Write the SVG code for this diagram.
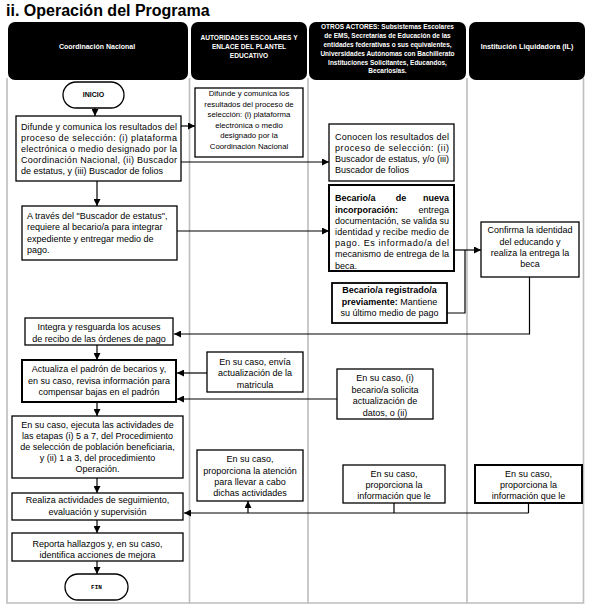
<svg xmlns="http://www.w3.org/2000/svg" width="589" height="610" viewBox="0 0 589 610">
<style>
text{font-family:"Liberation Sans",Arial,sans-serif;fill:#000}
.t{font-size:9px}
.s{font-size:7.8px}
.c{text-anchor:middle}
.b{font-weight:bold}
.h{fill:#fff;font-weight:bold;text-anchor:middle}
.box{fill:#fff;stroke:#000;stroke-width:1.3}
.thick{stroke-width:2}
.lane{fill:none;stroke:#bdbdbd;stroke-width:1.6}
.hd{fill:#000}
.ln{fill:none;stroke:#000;stroke-width:1.2}
</style>
<defs>
<marker id="ah" viewBox="0 0 10 10" refX="10" refY="5" markerWidth="7" markerHeight="7" markerUnits="userSpaceOnUse" orient="auto">
<path d="M0,0 L10,5 L0,10 Z" fill="#000"/>
</marker>
</defs>
<rect width="589" height="610" fill="#fff"/>
<text x="6" y="16" class="b" style="font-size:16px">ii. Operación del Programa</text>

<g id="lanes">
<path class="lane" d="M7,78 V603 H583.5 V78 M189.5,78 V603 M308,78 V603 M467,78 V603"/>
</g>

<g id="headers">
<rect class="hd" x="8" y="22" width="180" height="58" rx="7"/>
<text class="h" x="97" y="48.5" style="font-size:7px">Coordinación Nacional</text>
<rect class="hd" x="191" y="22" width="116" height="58" rx="7"/>
<text class="h" x="249" y="40.4" style="font-size:6.6px">AUTORIDADES ESCOLARES Y</text>
<text class="h" x="249" y="49.4" style="font-size:6.6px">ENLACE DEL PLANTEL</text>
<text class="h" x="249" y="58.4" style="font-size:6.6px">EDUCATIVO</text>
<rect class="hd" x="309" y="22" width="157" height="58" rx="7"/>
<g style="font-size:6.5px">
<text class="h" x="387.5" y="29.4">OTROS ACTORES: Subsistemas Escolares</text>
<text class="h" x="387.5" y="38.2">de EMS, Secretarías de Educación de las</text>
<text class="h" x="387.5" y="47">entidades federativas o sus equivalentes,</text>
<text class="h" x="387.5" y="55.8">Universidades Autónomas con Bachillerato</text>
<text class="h" x="387.5" y="64.6">Instituciones Solicitantes, Educandos,</text>
<text class="h" x="387.5" y="73.4">Becarios/as.</text>
</g>
<rect class="hd" x="469" y="22" width="116" height="58" rx="7"/>
<text class="h" x="527" y="48.5" style="font-size:7.2px">Institución Liquidadora (IL)</text>
</g>

<g id="connectors">
<path class="ln" marker-end="url(#ah)" d="M95,108 V116"/>
<path class="ln" marker-end="url(#ah)" d="M181,126 H195"/>
<path class="ln" marker-end="url(#ah)" d="M181,162 H329"/>
<path class="ln" marker-end="url(#ah)" d="M97,181 V206"/>
<path class="ln" marker-end="url(#ah)" d="M177,231 H329"/>
<path class="ln" d="M447,313 H465 V250"/>
<path class="ln" marker-end="url(#ah)" d="M454,250 H481"/>
<path class="ln" marker-end="url(#ah)" d="M529.5,277 V334 H174"/>
<path class="ln" marker-end="url(#ah)" d="M97,345 V360"/>
<path class="ln" marker-end="url(#ah)" d="M207,373 H177"/>
<path class="ln" marker-end="url(#ah)" d="M337,399 H177"/>
<path class="ln" marker-end="url(#ah)" d="M97,402 V416"/>
<path class="ln" marker-end="url(#ah)" d="M97,478 V493"/>
<path class="ln" d="M394,503 V513 M528.5,503 V513"/>
<path class="ln" marker-end="url(#ah)" d="M528.5,513 H184"/>
<path class="ln" marker-end="url(#ah)" d="M248,513 V501"/>
<path class="ln" marker-end="url(#ah)" d="M97,520 V533"/>
<path class="ln" marker-end="url(#ah)" d="M97,561 V574"/>
</g>

<g id="inicio">
<rect class="box" x="63" y="82" width="61" height="26" rx="13"/>
<text class="c b" x="93.5" y="97" style="font-size:7px">INICIO</text>
</g>

<g id="cn-difunde">
<rect class="box" x="16" y="116" width="165" height="65"/>
<g class="t">
<text x="21" y="129.5" textLength="156" lengthAdjust="spacing">Difunde y comunica los resultados del</text>
<text x="21" y="140.5" textLength="156" lengthAdjust="spacing">proceso de selección: (i) plataforma</text>
<text x="21" y="151.5" textLength="156" lengthAdjust="spacing">electrónica o medio designado por la</text>
<text x="21" y="162.5" textLength="156" lengthAdjust="spacing">Coordinación Nacional, (ii) Buscador</text>
<text x="21" y="173.5">de estatus, y (iii) Buscador de folios</text>
</g>
</g>

<g id="aut-difunde">
<rect class="box" x="195" y="88" width="108" height="69"/>
<g class="s c">
<text x="249" y="96.3">Difunde y comunica los</text>
<text x="249" y="106.8">resultados del proceso de</text>
<text x="249" y="117.3">selección: (i) plataforma</text>
<text x="249" y="127.8">electrónica o medio</text>
<text x="249" y="138.3">designado por la</text>
<text x="249" y="148.8">Coordinación Nacional</text>
</g>
</g>

<g id="otros-conocen">
<rect class="box" x="329" y="124" width="125" height="57"/>
<g class="t">
<text x="335" y="140" textLength="114" lengthAdjust="spacing">Conocen los resultados del</text>
<text x="335" y="151" textLength="114" lengthAdjust="spacing">proceso de selección: (ii)</text>
<text x="335" y="161.8" textLength="114" lengthAdjust="spacing">Buscador de estatus, y/o (iii)</text>
<text x="335" y="172.6">Buscador de folios</text>
</g>
</g>

<g id="cn-requiere">
<rect class="box" x="22" y="206" width="155" height="54"/>
<g class="t">
<text x="27" y="218.5">A través del "Buscador de estatus",</text>
<text x="27" y="230">requiere al becario/a para integrar</text>
<text x="27" y="241.5">expediente y entregar medio de</text>
<text x="27" y="253">pago.</text>
</g>
</g>

<g id="otros-nuevo">
<rect class="box thick" x="329" y="185" width="125" height="86"/>
<g class="t">
<text x="335" y="201.3" class="b">Becario/a</text>
<text x="401" y="201.3" class="b c">de</text>
<text x="449" y="201.3" class="b" text-anchor="end">nueva</text>
<text x="335" y="212.5" class="b">incorporación:</text>
<text x="449" y="212.5" text-anchor="end">entrega</text>
<text x="335" y="223.8" textLength="114" lengthAdjust="spacing">documentación, se valida su</text>
<text x="335" y="235" textLength="114" lengthAdjust="spacing">identidad y recibe medio de</text>
<text x="335" y="246.2" textLength="114" lengthAdjust="spacing">pago. Es informado/a del</text>
<text x="335" y="257.4" textLength="114" lengthAdjust="spacing">mecanismo de entrega de la</text>
<text x="335" y="268.6">beca.</text>
</g>
</g>

<g id="otros-registrado">
<rect class="box" x="332" y="283" width="115" height="40" style="stroke-width:1.8"/>
<g class="t c">
<text x="389.5" y="293.3" class="b">Becario/a registrado/a</text>
<text x="389.5" y="304.5"><tspan class="b">previamente:</tspan> Mantiene</text>
<text x="389.5" y="315.7">su último medio de pago</text>
</g>
</g>

<g id="il-confirma">
<rect class="box" x="481" y="222" width="98" height="55"/>
<g class="t c">
<text x="530" y="233.3">Confirma la identidad</text>
<text x="530" y="244.6">del educando y</text>
<text x="530" y="255.9">realiza la entrega la</text>
<text x="530" y="267.2">beca</text>
</g>
</g>

<g id="cn-integra">
<rect class="box" x="25" y="318" width="148" height="27"/>
<g class="t c">
<text x="99" y="329.7">Integra y resguarda los acuses</text>
<text x="99" y="341.5">de recibo de las órdenes de pago</text>
</g>
</g>

<g id="cn-actualiza">
<rect class="box thick" x="22" y="360" width="154" height="42"/>
<g class="t c">
<text x="99" y="372.2">Actualiza el padrón de becarios y,</text>
<text x="99" y="383.6">en su caso, revisa información para</text>
<text x="99" y="395">compensar bajas en el padrón</text>
</g>
</g>

<g id="aut-matricula">
<rect class="box" x="207" y="352" width="96" height="40"/>
<g class="t c">
<text x="255" y="364.7">En su caso, envía</text>
<text x="255" y="376.1">actualización de la</text>
<text x="255" y="387.5">matricula</text>
</g>
</g>

<g id="otros-datos">
<rect class="box" x="337" y="369" width="96" height="50"/>
<g class="t c">
<text x="385" y="381.3">En su caso, (i)</text>
<text x="385" y="392.7">becario/a solicita</text>
<text x="385" y="404.1">actualización de</text>
<text x="385" y="415.5">datos, o (ii)</text>
</g>
</g>

<g id="cn-ejecuta">
<rect class="box" x="12" y="416" width="171" height="62"/>
<g class="t c">
<text x="97.5" y="428.2">En su caso, ejecuta las actividades de</text>
<text x="97.5" y="439.2">las etapas (i) 5 a 7, del Procedimiento</text>
<text x="97.5" y="450.2">de selección de población beneficiaria,</text>
<text x="97.5" y="461.2">y (ii) 1 a 3, del procedimiento</text>
<text x="97.5" y="472.2">Operación.</text>
</g>
</g>

<g id="aut-atencion">
<rect class="box" x="197" y="450" width="106" height="51"/>
<g class="t c">
<text x="250" y="462.3">En su caso,</text>
<text x="250" y="473.7">proporciona la atención</text>
<text x="250" y="485">para llevar a cabo</text>
<text x="250" y="496.3">dichas actividades</text>
</g>
</g>

<g id="otros-info">
<rect class="box" x="343" y="465" width="102" height="38"/>
<g class="t c">
<text x="394" y="477.2">En su caso,</text>
<text x="394" y="488.2">proporciona la</text>
<text x="394" y="499.2">información que le</text>
</g>
</g>

<g id="il-info">
<rect class="box thick" x="475" y="465" width="107" height="38"/>
<g class="t c">
<text x="528.5" y="477.2">En su caso,</text>
<text x="528.5" y="488.2">proporciona la</text>
<text x="528.5" y="499.2">información que le</text>
</g>
</g>

<g id="cn-realiza">
<rect class="box" x="12" y="493" width="171" height="27"/>
<g class="t c">
<text x="97.5" y="503.3">Realiza actividades de seguimiento,</text>
<text x="97.5" y="514.6">evaluación y supervisión</text>
</g>
</g>

<g id="cn-reporta">
<rect class="box" x="12" y="533" width="171" height="28"/>
<g class="t c">
<text x="97.5" y="546.5">Reporta hallazgos y, en su caso,</text>
<text x="97.5" y="557.9">identifica acciones de mejora</text>
</g>
</g>

<g id="fin">
<rect class="box" x="65" y="574" width="63" height="26" rx="13"/>
<text class="c b" x="96.5" y="589" style="font-size:6px;font-family:'Liberation Mono',monospace">FIN</text>
</g>
</svg>
